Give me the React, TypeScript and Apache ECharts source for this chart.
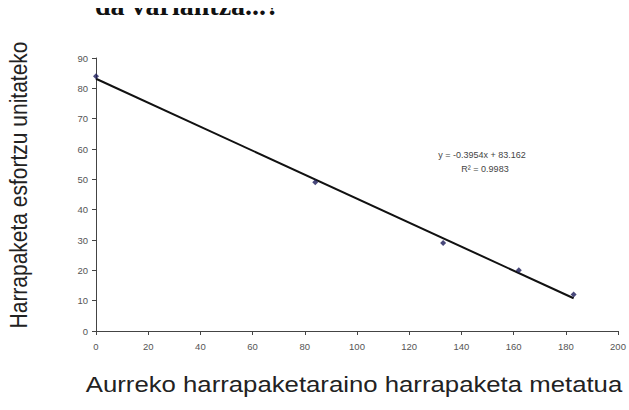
import React, { useEffect, useRef } from "react";
import * as echarts from "echarts";

const xValues = [0, 84, 133, 162, 183];
const yValues = [84, 49, 29, 20, 12];
const slope = -0.3954;
const intercept = 83.162;
const equationText = "y = -0.3954x + 83.162";
const r2Text = "R² = 0.9983";
const xTitle = "Aurreko harrapaketaraino harrapaketa metatua";
const yTitle = "Harrapaketa esfortzu unitateko";
const topText = "da variantza...?";

export default function App() {
  const ref = useRef<HTMLDivElement>(null);
  useEffect(() => {
    document.body.style.margin = "0";
    const chart = echarts.init(ref.current!, null, { renderer: "svg" });
    const points = xValues.map((x, i) => [x, yValues[i]]);
    const xMin = Math.min(...xValues);
    const xMax = Math.max(...xValues);
    const trend = [
      [xMin, slope * xMin + intercept],
      [xMax, slope * xMax + intercept],
    ];
    chart.setOption({
      animation: false,
      backgroundColor: "#ffffff",
      grid: { left: 96, right: 11, top: 58, bottom: 79 },
      xAxis: {
        type: "value",
        min: 0,
        max: 200,
        interval: 20,
        axisLine: { show: true, lineStyle: { color: "#444", width: 1 } },
        axisTick: { show: true, length: 4, lineStyle: { color: "#444" } },
        axisLabel: { fontSize: 9.5, color: "#555", fontFamily: "Arial, Liberation Sans", margin: 10 },
        splitLine: { show: false },
      },
      yAxis: {
        type: "value",
        min: 0,
        max: 90,
        interval: 10,
        axisLine: { show: true, lineStyle: { color: "#444", width: 1 } },
        axisTick: { show: true, length: 4, lineStyle: { color: "#444" } },
        axisLabel: { fontSize: 9.5, color: "#555", fontFamily: "Arial, Liberation Sans", margin: 8 },
        splitLine: { show: false },
      },
      series: [
        {
          type: "line",
          data: trend,
          symbol: "none",
          lineStyle: { color: "#111", width: 2 },
          z: 2,
        },
        {
          type: "scatter",
          data: points,
          symbol: "diamond",
          symbolSize: 6,
          itemStyle: { color: "#1c1c5a" },
          z: 3,
        },
      ],
      graphic: [
        {
          type: "text",
          x: 95,
          y: -9,
          style: {
            text: topText,
            font: "bold 28px 'Liberation Serif', 'DejaVu Serif', serif",
            fill: "#111",
          },
        },
        {
          type: "rect",
          shape: { x: 0, y: 0, width: 629, height: 8 },
          style: { fill: "#ffffff" },
          z: 10,
        },
        {
          type: "text",
          x: 19,
          y: 185,
          rotation: Math.PI / 2,
          scaleY: 1.15,
          style: {
            text: yTitle,
            font: "21px 'Liberation Sans', Arial, sans-serif",
            fill: "#222",
            align: "center",
            verticalAlign: "middle",
          },
        },
        {
          type: "text",
          x: 354,
          y: 384,
          scaleX: 1.17,
          style: {
            text: xTitle,
            font: "22px 'Liberation Sans', Arial, sans-serif",
            fill: "#222",
            align: "center",
            verticalAlign: "middle",
          },
        },
        {
          type: "text",
          x: 482,
          y: 155,
          style: {
            text: equationText,
            font: "9px 'Liberation Sans', Arial, sans-serif",
            fill: "#444",
            align: "center",
            verticalAlign: "middle",
          },
        },
        {
          type: "text",
          x: 485,
          y: 169,
          style: {
            text: r2Text,
            font: "9px 'Liberation Sans', Arial, sans-serif",
            fill: "#444",
            align: "center",
            verticalAlign: "middle",
          },
        },
      ],
    });
    return () => chart.dispose();
  }, []);
  return <div ref={ref} style={{ width: 629, height: 410 }} />;
}
